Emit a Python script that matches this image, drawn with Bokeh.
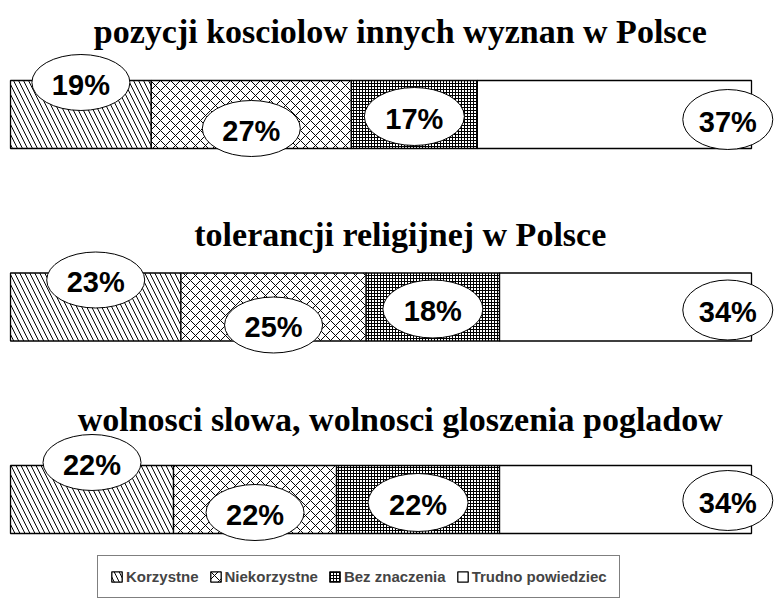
from bokeh.plotting import figure
from bokeh.models import Range1d, ColumnDataSource, Legend, LegendItem
from bokeh.core.properties import value
from bokeh.embed import file_html
from bokeh.resources import INLINE

# ---- data ----
categories = ["pozycji kosciolow innych wyznan w Polsce",
              "tolerancji religijnej w Polsce",
              "wolnosci slowa, wolnosci gloszenia pogladow"]
series = ["Korzystne", "Niekorzystne", "Bez znaczenia", "Trudno powiedziec"]
korzystne = [19, 23, 22]
niekorzystne = [27, 25, 22]
bez_znaczenia = [17, 18, 22]
trudno = [37, 34, 34]

# ---- layout (screen-like y units, top = 0) ----
bar_y = [114, 306.5, 499]
bar_h = 68
title_y = [31, 234, 419]
label_dy = [[-32, 14, 2, 5], [-27, 18, 2, 3], [-37, 13, 3, 1]]
ell_w = [98, 98, 100, 90]
ell_h = [56, 56, 58, 60]
patterns = ["left_diagonal_line", "diagonal_cross", "cross", "blank"]
scales = [10, 10, 3, 7]

W, H = 774, 600
px_per = 7.41
x0 = 10.0
p = figure(width=W, height=H, output_backend="svg", toolbar_location=None,
           x_range=Range1d(-x0 / px_per, (W - x0) / px_per),
           y_range=Range1d(H, 0), x_axis_location=None, y_axis_location=None,
           min_border=0)
p.grid.visible = False
p.outline_line_color = None
p.background_fill_color = "white"

vals = [korzystne, niekorzystne, bez_znaczenia, trudno]
left = [0, 0, 0]
renderers = []
for k, v in enumerate(vals):
    right = [l + x for l, x in zip(left, v)]
    src = ColumnDataSource(dict(y=bar_y, left=left, right=right))
    r = p.hbar(y="y", left="left", right="right", height=bar_h, source=src,
               fill_color="white", line_color="black", line_width=1.3,
               hatch_pattern=patterns[k], hatch_color="black",
               hatch_scale=scales[k], hatch_weight=1)
    renderers.append(r)
    left = right

# labels in ellipses
for k, v in enumerate(vals):
    starts = [0, 0, 0]
    for j in range(k):
        starts = [s + x for s, x in zip(starts, vals[j])]
    if k < 3:
        xs = [s + x / 2 for s, x in zip(starts, v)]
    else:
        xs = [100 - 3.2 for _ in v]
    ys = [bar_y[i] + label_dy[i][k] for i in range(3)]
    src = ColumnDataSource(dict(x=xs, y=ys, t=[f"{x}%" for x in v]))
    p.ellipse(x="x", y="y", width=ell_w[k], height=ell_h[k], width_units="screen",
              height_units="screen", source=src, fill_color="white",
              line_color="black", line_width=1)
    p.text(x="x", y="y", text="t", source=src, text_align="center",
           text_baseline="middle", text_font=value("Liberation Sans"),
           text_font_style="bold", text_font_size="29px", text_color="black",
           y_offset=2)

# titles
tsrc = ColumnDataSource(dict(x=[52.6] * 3, y=title_y, t=categories))
p.text(x="x", y="y", text="t", source=tsrc, text_align="center",
       text_baseline="middle", text_font=value("Liberation Serif"),
       text_font_style="bold", text_font_size="34px", text_color="black")

legend = Legend(items=[LegendItem(label=s, renderers=[r]) for s, r in zip(series, renderers)],
                orientation="horizontal", location=(97, 2),
                label_text_font="Liberation Sans", label_text_font_style="bold",
                label_text_font_size="15px", glyph_width=13, glyph_height=13,
                label_standoff=3, spacing=10, padding=12, margin=0,
                border_line_color="black", border_line_width=1,
                background_fill_color="white", background_fill_alpha=1)
p.add_layout(legend, "center")

open("out.html", "w").write(file_html(p, INLINE))
